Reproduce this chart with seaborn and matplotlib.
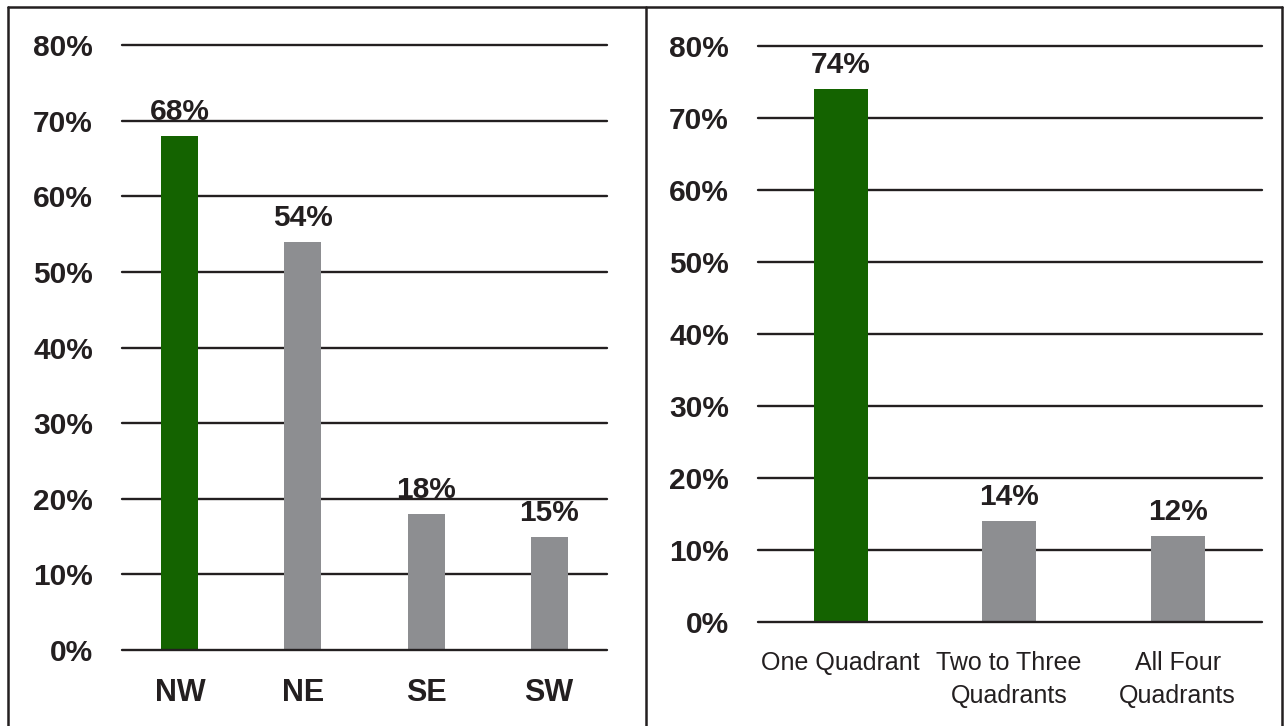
import matplotlib
matplotlib.use("Agg")
import matplotlib.pyplot as plt
import seaborn as sns
import pandas as pd
from matplotlib.lines import Line2D

sns.set_theme(style="white")
plt.rcParams['font.family'] = ['Liberation Sans', 'DejaVu Sans']

# data
regions = ['NW', 'NE', 'SE', 'SW']
region_pct = [68, 54, 18, 15]
spread = ['One Quadrant', 'Two to Three\nQuadrants', 'All Four\nQuadrants']
spread_pct = [74, 14, 12]
y_ticks = [0, 10, 20, 30, 40, 50, 60, 70, 80]

GREEN = '#146300'
GREY = '#8d8e91'
INK = '#231f20'


def draw_panel(ax, cats, vals, bar_w, xlim, cat_size, cat_weight, cat_pad):
    df = pd.DataFrame({'cat': cats, 'val': vals})
    colors = [GREEN] + [GREY] * (len(cats) - 1)
    sns.barplot(data=df, x='cat', y='val', hue='cat', palette=colors, legend=False,
                width=bar_w, saturation=1, linewidth=0, ax=ax, zorder=2)
    # horizontal rules behind bars, baseline on top
    for t in y_ticks[1:]:
        ax.axhline(t, color=INK, lw=1.7, zorder=1, clip_on=False)
    ax.axhline(0, color=INK, lw=1.7, zorder=3, clip_on=False)
    ax.set_ylim(0, 80)
    ax.set_xlim(*xlim)
    ax.set_yticks(y_ticks)
    ax.set_yticklabels([f'{t}%' for t in y_ticks], fontsize=21.5, fontweight='bold', color=INK)
    ax.set_xticks(range(len(cats)))
    ax.set_xticklabels(cats, fontsize=cat_size, fontweight=cat_weight, color=INK)
    for lbl in ax.get_xticklabels():
        lbl.set_linespacing(1.45)
    ax.tick_params(axis='y', length=0, pad=21)
    ax.tick_params(axis='x', length=0, pad=cat_pad)
    sns.despine(ax=ax, left=True, bottom=True, top=True, right=True)
    ax.set_xlabel('')
    ax.set_ylabel('')
    for c in ax.containers:
        ax.bar_label(c, fmt='{:.0f}%', padding=7, fontsize=21.5, fontweight='bold', color=INK)


fig = plt.figure(figsize=(12.84, 7.26), dpi=100)
ax1 = fig.add_axes([122 / 1284, 1 - 650 / 726, 485 / 1284, 605 / 726])
ax2 = fig.add_axes([758 / 1284, 1 - 622 / 726, 504 / 1284, 576 / 726])

draw_panel(ax1, regions, region_pct, 0.3, (-0.47, 3.47), 22, 'bold', 20)
draw_panel(ax2, spread, spread_pct, 0.32, (-0.49, 2.5), 18, 'normal', 21)

# panel frames (no bottom edge, as in the source)
W, H = 1284, 726
frame = [
    ([8, 8], [7, H]),
    ([8, 1282], [7, 7]),
    ([646, 646], [7, H]),
    ([1282, 1282], [7, H]),
]
for xs, ys in frame:
    fig.add_artist(Line2D([x / W for x in xs], [1 - y / H for y in ys], color=INK, lw=1.8))

fig.savefig('out.png', dpi=100)
